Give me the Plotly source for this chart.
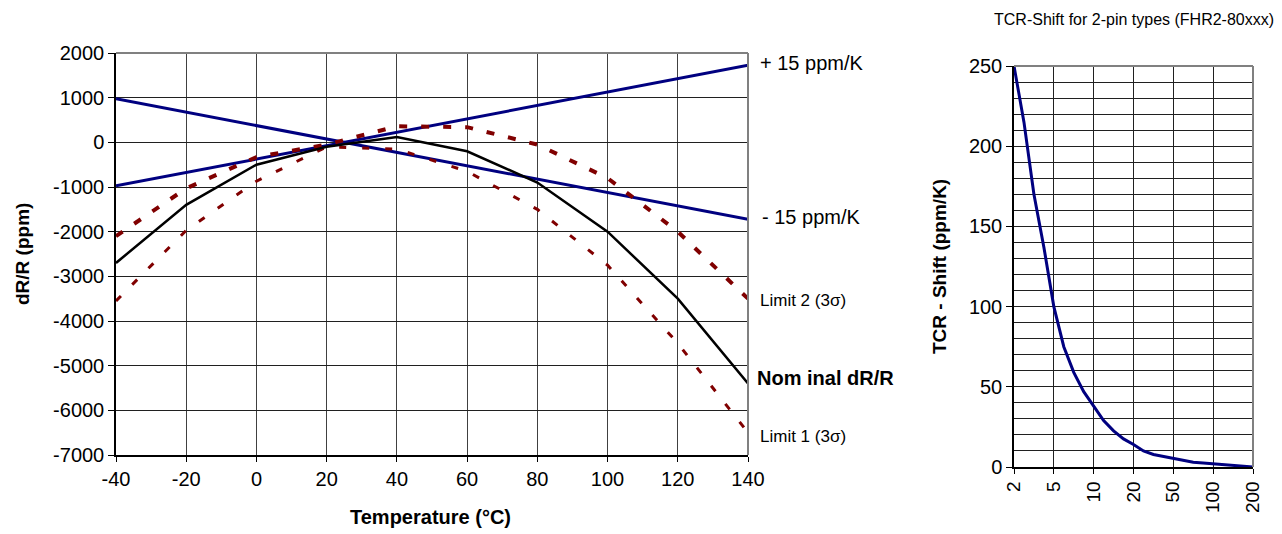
import plotly.graph_objects as go

# ---------------- data: left chart (dR/R vs temperature) ----------------
temps = [-40, -20, 0, 20, 40, 60, 80, 100, 120, 140]
nominal = [-2700, -1400, -500, -100, 120, -200, -900, -2000, -3500, -5400]
limit2 = [-2100, -1030, -330, -50, 360, 340, -50, -800, -2000, -3500]
limit1 = [-3550, -1970, -870, -100, -150, -650, -1500, -2750, -4500, -6500]

tcr_temps = [-40, 140]
tcr_plus = [-975, 1725]     # +15 ppm/K around 25 °C
tcr_minus = [975, -1725]    # -15 ppm/K around 25 °C

x_ticks_left = [-40, -20, 0, 20, 40, 60, 80, 100, 120, 140]
y_ticks_left = [2000, 1000, 0, -1000, -2000, -3000, -4000, -5000, -6000, -7000]

# ---------------- data: right chart (TCR shift) ----------------
shift_cats = ["2", "2.5", "3", "4", "5", "6", "7", "8.5", "10", "12", "14", "17",
              "20", "25", "30", "40", "50", "60", "70", "85", "100", "120", "140", "170", "200"]
shift_vals = [250, 215, 170, 137, 100, 75, 59, 47, 38, 29, 22.5, 17.5,
              14, 10, 7.8, 6.5, 5.2, 4, 3, 2.5, 2, 1.5, 1, 0.5, 0]
shift_labels = ["2", "5", "10", "20", "50", "100", "200"]
shift_yticks = [0, 50, 100, 150, 200, 250]

FONT = "Arial, Liberation Sans, sans-serif"
NAVY = "#000080"
DRED = "#800000"

OFF = 8                      # page body margin
W, H = 1282 - OFF, 534 - OFF


def px(x):
    return (x - OFF) / W


def py(y):
    return 1 - (y - OFF) / H


def hy(v):
    return str(v)  # plain hyphen-minus like the reference


fig = go.Figure()

# left chart traces
fig.add_trace(go.Scatter(x=tcr_temps, y=tcr_plus, mode="lines",
                         line=dict(color=NAVY, width=3), xaxis="x", yaxis="y"))
fig.add_trace(go.Scatter(x=tcr_temps, y=tcr_minus, mode="lines",
                         line=dict(color=NAVY, width=3), xaxis="x", yaxis="y"))
fig.add_trace(go.Scatter(x=temps, y=limit2, mode="lines",
                         line=dict(color=DRED, width=4, dash="8px,14px"), xaxis="x", yaxis="y"))
fig.add_trace(go.Scatter(x=temps, y=limit1, mode="lines",
                         line=dict(color=DRED, width=3, dash="7px,16px"), xaxis="x", yaxis="y"))
fig.add_trace(go.Scatter(x=temps, y=nominal, mode="lines",
                         line=dict(color="black", width=2.5), xaxis="x", yaxis="y"))

# right chart trace
fig.add_trace(go.Scatter(x=shift_cats, y=shift_vals, mode="lines",
                         line=dict(color=NAVY, width=3), xaxis="x2", yaxis="y2"))

fig.update_layout(
    width=W, height=H,
    margin=dict(l=0, r=0, t=0, b=0, pad=0, autoexpand=False),
    paper_bgcolor="white", plot_bgcolor="white",
    showlegend=False,
    font=dict(family=FONT, size=20, color="black"),
    xaxis=dict(
        domain=[px(116), px(748)], range=[-40, 140], automargin=False,
        tickvals=x_ticks_left, ticktext=[hy(v) for v in x_ticks_left],
        ticks="outside", ticklen=5, tickcolor="black",
        showgrid=True, gridcolor="#404040", gridwidth=1,
        showline=True, linecolor="black", linewidth=1.5, mirror=False,
        zeroline=False, tickfont=dict(size=20), anchor="y",
    ),
    yaxis=dict(
        domain=[py(455), py(53)], range=[-7000, 2000], automargin=False,
        tickvals=y_ticks_left, ticktext=[hy(v) for v in y_ticks_left],
        ticks="outside", ticklen=6, tickcolor="black",
        showgrid=True, gridcolor="#202020", gridwidth=1,
        showline=True, linecolor="black", linewidth=1.5,
        zeroline=False, tickfont=dict(size=20), anchor="x",
    ),
    xaxis2=dict(
        domain=[px(1014), px(1253)], type="category", automargin=False,
        categoryorder="array", categoryarray=shift_cats,
        range=[0, len(shift_cats) - 1],
        tickvals=shift_labels, ticktext=shift_labels, tickangle=-90,
        ticks="outside", ticklen=5, tickcolor="black",
        showgrid=True, gridcolor="#202020", gridwidth=1,
        showline=True, linecolor="black", linewidth=1.5,
        zeroline=False, tickfont=dict(size=19), anchor="y2",
    ),
    yaxis2=dict(
        domain=[py(467), py(66)], range=[0, 250], automargin=False,
        tickvals=shift_yticks, ticktext=[hy(v) for v in shift_yticks],
        ticks="outside", ticklen=6, tickcolor="black",
        showgrid=True, gridcolor="#202020", gridwidth=1,
        minor=dict(dtick=10, showgrid=True, gridcolor="#202020", gridwidth=1, ticks=""),
        showline=True, linecolor="black", linewidth=1.5,
        zeroline=False, tickfont=dict(size=20), anchor="x2",
    ),
)

# grey top/right plot borders
for xr, yr in (("x domain", "y domain"), ("x2 domain", "y2 domain")):
    fig.add_shape(type="line", xref=xr, yref=yr, x0=0, x1=1, y0=1, y1=1,
                  line=dict(color="#808080", width=2))
    fig.add_shape(type="line", xref=xr, yref=yr, x0=1, x1=1, y0=0, y1=1,
                  line=dict(color="#808080", width=2))

ann = []
# series labels
ann.append(dict(text="+ 15 ppm/K", x=px(758), y=py(63), xanchor="left", yanchor="middle",
                font=dict(size=20)))
ann.append(dict(text="- 15 ppm/K", x=px(760), y=py(217), xanchor="left", yanchor="middle",
                font=dict(size=20)))
ann.append(dict(text="Limit 2 (3σ)", x=px(758), y=py(300), xanchor="left", yanchor="middle",
                font=dict(size=17)))
ann.append(dict(text="<b>Nom inal dR/R</b>", x=px(755), y=py(378), xanchor="left", yanchor="middle",
                font=dict(size=20)))
ann.append(dict(text="Limit 1 (3σ)", x=px(758), y=py(436), xanchor="left", yanchor="middle",
                font=dict(size=17)))
# axis titles
ann.append(dict(text="<b>dR/R (ppm)</b>", x=px(22), y=py(254), xanchor="center", yanchor="middle",
                textangle=-90, font=dict(size=19)))
ann.append(dict(text="<b>Temperature (°C)</b>", x=px(430), y=py(517), xanchor="center",
                yanchor="middle", font=dict(size=20)))
ann.append(dict(text="<b>TCR - Shift (ppm/K)</b>", x=px(940), y=py(267), xanchor="center",
                yanchor="middle", textangle=-90, font=dict(size=19)))
ann.append(dict(text="TCR-Shift for 2-pin types (FHR2-80xxx)", x=px(1276), y=py(20),
                xanchor="right", yanchor="middle", font=dict(size=16)))

for a in ann:
    a.update(xref="paper", yref="paper", showarrow=False)
fig.update_layout(annotations=ann)

fig.write_html("out.html")
